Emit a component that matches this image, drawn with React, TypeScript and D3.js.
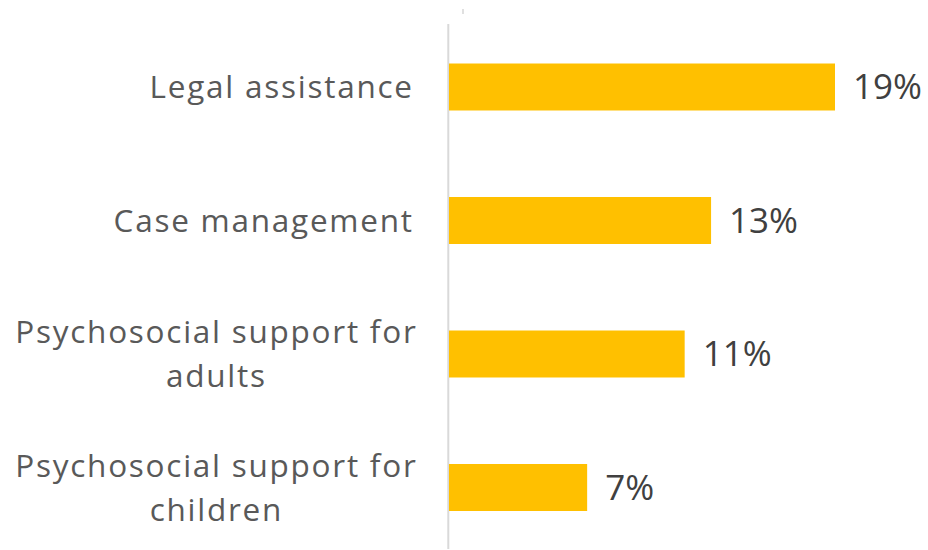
import React from "react";
import * as d3 from "d3";

const categories: string[][] = [
  ["Legal assistance"],
  ["Case management"],
  ["Psychosocial support for", "adults"],
  ["Psychosocial support for", "children"],
];
const values: number[] = [19.0, 12.9, 11.6, 6.8];
const valueLabels: string[] = ["19%", "13%", "11%", "7%"];

const W = 928;
const H = 550;

export default function App() {
  const x = d3.scaleLinear().domain([0, 19]).range([449, 835]);
  const y = d3
    .scaleBand<number>()
    .domain(values.map((_, i) => i))
    .range([20.25, 554.25])
    .paddingInner(0.648)
    .paddingOuter(0.324);
  const lineH = 44;
  const catFont = "'Open Sans', 'Liberation Sans', sans-serif";
  const ls = 1.75;
  return (
    <svg
      width={W}
      height={H}
      style={{ position: "absolute", left: 0, top: 0, background: "#fff" }}
    >
      <line x1={463} x2={463} y1={9} y2={14} stroke="#e0e0e0" strokeWidth={2} />
      <line x1={448.3} x2={448.3} y1={24} y2={549} stroke="#d9d9d9" strokeWidth={2} />
      {values.map((v, i) => {
        const y0 = y(i)!;
        const cy = y0 + y.bandwidth() / 2;
        const lines = categories[i];
        return (
          <g key={i}>
            <rect
              x={x(0)}
              y={y0}
              width={x(v) - x(0)}
              height={y.bandwidth()}
              fill="#FFC000"
            />
            <text
              x={x(v) + 18}
              y={cy}
              dy="0.35em"
              fontSize={35}
              fill="#404040"
              fontFamily={catFont}
            >
              {valueLabels[i]}
            </text>
            {lines.map((l, j) => (
              <text
                key={j}
                x={lines.length > 1 ? 215.5 + ls / 2 : 412 + ls}
                y={cy + (j - (lines.length - 1) / 2) * lineH}
                dy="0.36em"
                textAnchor={lines.length > 1 ? "middle" : "end"}
                fontSize={31.5}
                letterSpacing={ls}
                fill="#595959"
                fontFamily={catFont}
              >
                {l}
              </text>
            ))}
          </g>
        );
      })}
    </svg>
  );
}
